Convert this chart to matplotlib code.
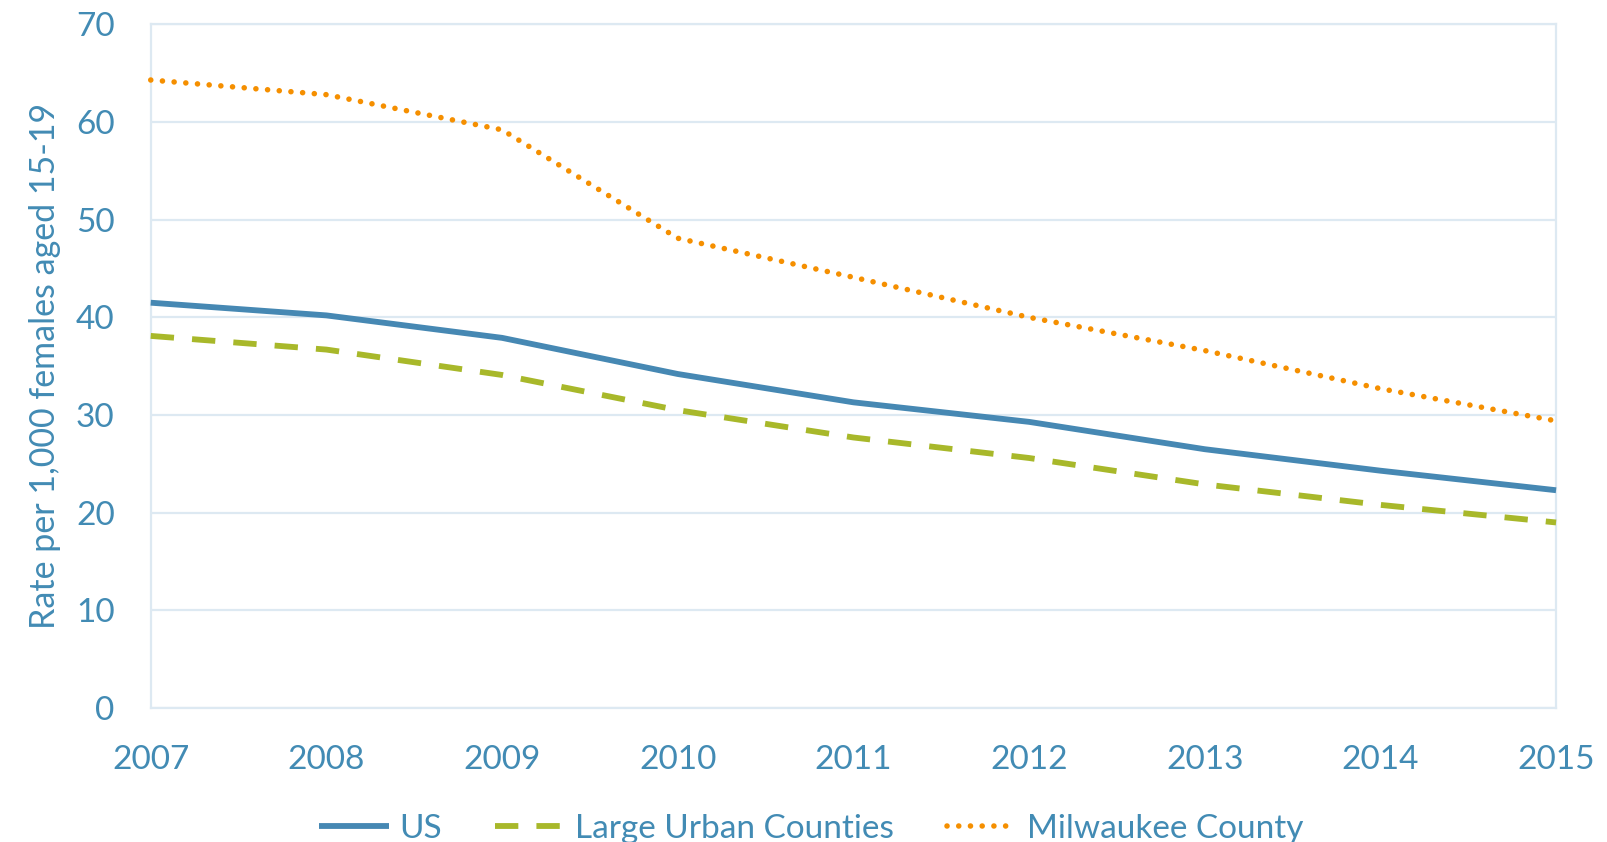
import matplotlib
matplotlib.use("Agg")
import matplotlib.pyplot as plt

years = [2007, 2008, 2009, 2010, 2011, 2012, 2013, 2014, 2015]
us = [41.5, 40.2, 37.9, 34.2, 31.3, 29.3, 26.5, 24.3, 22.3]
large_urban = [38.1, 36.7, 34.1, 30.5, 27.7, 25.6, 22.9, 20.8, 19.0]
milwaukee = [64.3, 62.8, 59.2, 48.1, 44.1, 40.0, 36.6, 32.7, 29.4]
series_names = ["US", "Large Urban Counties", "Milwaukee County"]
yticks = [0, 10, 20, 30, 40, 50, 60, 70]
ylabel = "Rate per 1,000 females aged 15-19"

TEXT = "#428bb4"
GRID = "#dde9f2"
plt.rcParams['font.family'] = ['Lato', 'DejaVu Sans']

fig = plt.figure(figsize=(16.07, 8.42), dpi=100)
ax = fig.add_axes([0.0938, 0.1591, 0.8745, 0.8120])

ax.plot(years, us, color="#4688b3", lw=4.2, solid_capstyle='butt',
        label=series_names[0], clip_on=False, zorder=3)
ax.plot(years, large_urban, color="#a8b82a", lw=4.2, linestyle=(0, (4.0, 3.1)),
        dash_capstyle='butt', label=series_names[1], clip_on=False, zorder=3)
ax.plot(years, milwaukee, color="#f58f00", lw=4.0, linestyle=(0, (0.01, 2.1)),
        dash_capstyle='round', label=series_names[2], clip_on=False, zorder=3)

ax.set_xlim(years[0], years[-1])
ax.set_ylim(0, 70)
ax.set_yticks(yticks)
ax.set_xticks(years)
ax.set_xticklabels([str(y) for y in years])
ax.grid(axis='y', color=GRID, lw=1.6)
ax.set_axisbelow(True)
for s in ax.spines.values():
    s.set_color(GRID)
    s.set_linewidth(1.6)
ax.tick_params(axis='both', length=0, labelsize=24, labelcolor=TEXT)
ax.tick_params(axis='y', pad=26)
ax.tick_params(axis='x', pad=26.5)
ax.set_ylabel(ylabel, fontsize=24.5, color=TEXT, labelpad=11)

leg = fig.legend(loc='center', bbox_to_anchor=(0.505, 0.016), ncol=3, frameon=False,
                 fontsize=24, handlelength=2.1, handletextpad=0.3, columnspacing=1.6,
                 labelcolor=TEXT)

fig.savefig("out.png", dpi=100)
